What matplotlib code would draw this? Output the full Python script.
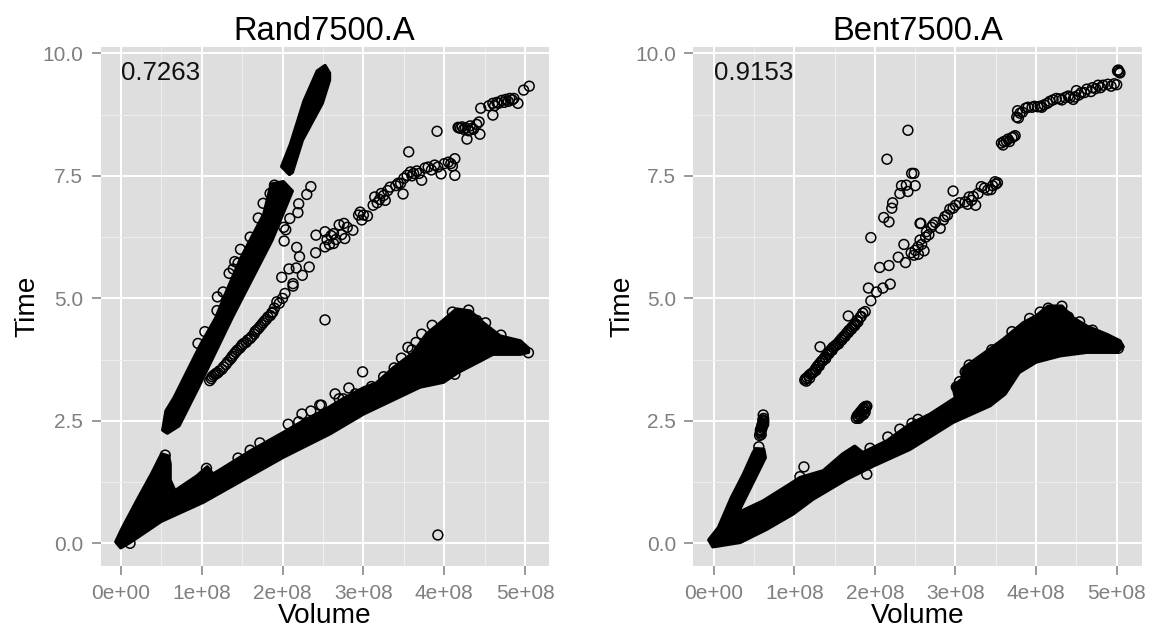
import matplotlib
matplotlib.use("Agg")
import matplotlib.pyplot as plt

# all x values in units of 1e8
tick_x = [0, 1, 2, 3, 4, 5]
tick_x_labels = ["0e+00", "1e+08", "2e+08", "3e+08", "4e+08", "5e+08"]
tick_y = [0, 2.5, 5, 7.5, 10]
tick_y_labels = ["0.0", "2.5", "5.0", "7.5", "10.0"]
minor_x = [0.5, 1.5, 2.5, 3.5, 4.5]
minor_y = [1.25, 3.75, 6.25, 8.75]

# Outlines of the fully overplotted (solid black) masses
rand_main = [(-0.06,0.03),(0,-0.09),(0.115,0.02),(0.5,0.45),(1.02,0.84),(2.01,1.76),(2.59,2.24),(3.0,2.64),(3.70,3.19),(3.99,3.29),
             (4.17,3.49),(4.44,3.72),(4.60,3.86),(4.94,3.86),(5.04,3.9),(5.04,3.98),(4.94,4.13),(4.69,4.23),(4.48,4.50),(4.32,4.74),
             (4.15,4.78),(3.98,4.54),(3.78,4.27),(3.61,3.88),(3.37,3.58),(3.16,3.27),(3.0,3.17),(2.75,2.95),(2.52,2.72),(2.26,2.50),(2.0,2.25),
             (1.6,1.88),(1.27,1.54),(1.14,1.41),(1.07,1.56),(0.94,1.37),(0.67,1.07),(0.61,1.29),(0.61,1.62),(0.59,1.78),(0.51,1.82),(0.48,1.74),
             (0.38,1.41),(0.22,0.93),(0.02,0.31)]
rand_steep = [(0.576,2.25),(0.72,2.40),(0.97,3.22),(1.38,4.62),(1.87,6.19),(2.12,7.19),(2.01,7.38),(1.86,7.33),(1.77,6.72),
              (1.485,5.82),(1.275,5.01),(1.176,4.60),(0.99,4.06),(0.826,3.52),(0.66,2.97),(0.56,2.70),(0.52,2.31)]
rand_top = [(2.085,7.53),(1.99,7.69),(2.10,8.15),(2.267,9.03),(2.43,9.64),(2.525,9.75),(2.58,9.6),(2.58,9.45),(2.49,8.98),(2.245,8.23),(2.12,7.57)]

bent_main = [(-0.06,0.07),(-0.01,-0.07),(0.33,0.02),(0.66,0.29),(0.985,0.60),(1.23,0.90),(1.65,1.31),(1.98,1.58),(2.435,1.92),(2.97,2.47),
             (3.43,2.81),(3.615,3.05),(3.79,3.49),(4.0,3.70),(4.3,3.83),(4.63,3.90),(5.0,3.90),(5.08,4.01),(5.04,4.13),(4.88,4.26),
             (4.63,4.43),(4.46,4.60),(4.32,4.84),(4.15,4.84),(4.0,4.64),(3.84,4.50),(3.59,4.16),(3.34,3.86),(3.1,3.58),(3.08,3.35),
             (2.97,3.2),(3.0,2.97),(2.68,2.63),(2.435,2.43),(2.15,2.09),(1.85,1.85),(1.75,1.98),(1.6,1.82),(1.36,1.48),(1.07,1.34),
             (0.95,1.21),(0.61,0.86),(0.3,0.62),(0.64,1.75),(0.62,1.92),(0.52,1.93),(0.49,1.85),(0.37,1.41),(0.22,0.93),(0.06,0.32)]

# Individually readable circles
rand_x = [1.10,1.13,1.17,1.20,1.25,1.30,1.35,1.38,1.42,1.47,1.50,1.55,1.60,1.65,1.68,1.72,1.76,1.80,1.85,1.866,1.93,2.03,2.13,1.99,2.08,2.17,2.245,2.33,2.21,2.175,2.41,2.414,2.525,2.525,2.13,
          2.02,2.09,2.19,2.2,2.3,2.35,2.015,2.04,
          1.195,1.265,1.19,1.34,1.41,1.48,1.6,1.7,1.76,1.846,1.9,1.39,1.45,1.04,0.955,
          2.63,2.63,2.76,2.77,2.87,2.96,2.98,3.12,3.14,3.22,3.27,3.33,3.43,3.49,3.54,3.62,3.72,3.76,3.88,3.96,4.05,4.13,4.13,3.56,3.91,
          4.17,4.2,4.24,4.28,4.34,4.3,4.43,4.44,4.45,4.6,4.6,4.55,4.65,4.71,4.76,4.81,4.86,4.91,4.98,5.05,
          2.525,3.92,2.99,2.82,2.65,2.48,3.55,3.72,3.47,4.3,4.51,5.04,4.13,3.38,2.46,2.24,2.07,1.72,1.6,1.45,1.06,0.115,0.55]
rand_y = [3.32,3.40,3.45,3.48,3.55,3.65,3.75,3.82,3.90,3.98,4.05,4.10,4.18,4.27,4.35,4.42,4.50,4.57,4.65,4.70,4.93,5.10,5.25,5.43,5.60,5.62,5.47,5.64,5.85,6.04,5.93,6.29,6.36,6.05,5.30,
          6.17,6.63,6.75,6.93,7.12,7.28,6.45,6.40,
          5.03,5.13,4.75,5.51,5.75,6.00,6.25,6.64,6.94,7.14,7.31,5.60,5.72,4.32,4.08,
          6.12,6.32,6.53,6.22,6.39,6.76,6.60,6.90,7.07,7.14,7.00,7.27,7.35,7.13,7.51,7.55,7.41,7.66,7.72,7.54,7.78,7.85,7.51,7.99,8.41,
          8.49,8.47,8.45,8.25,8.47,8.42,8.60,8.35,8.88,8.74,8.98,8.93,9.0,9.04,9.06,9.08,9.08,8.98,9.25,9.33,
          4.56,0.17,3.50,3.17,3.05,2.82,4.00,4.27,3.78,4.76,4.50,3.89,3.45,3.58,2.82,2.64,2.43,2.05,1.90,1.74,1.53,0.0,1.80]

bent_x = [2.41,2.15,2.456,2.485,2.5,2.33,2.39,2.31,2.41,2.22,2.21,2.11,2.175,1.95,2.56,2.36,2.29,2.38,2.175,2.06,2.485,2.535,2.19,2.1,2.02,1.92,1.95,1.88,1.67,1.82,
          1.32,1.13,1.16,1.2,1.24,1.28,1.32,1.36,1.4,1.44,1.48,1.52,1.56,1.6,1.64,1.68,1.72,1.76,1.78,1.85,
          1.14,1.18,1.22,1.26,1.3,1.34,1.38,1.42,1.46,1.5,1.54,1.58,1.62,1.66,1.7,1.74,
          0.57,0.58,0.59,0.6,0.6,0.61,0.62,0.62,0.615,0.58,0.6,0.62,
          1.77,1.79,1.81,1.83,1.85,1.87,1.89,1.9,1.78,1.8,1.82,1.84,1.86,1.88,
          1.12,1.07,0.56,1.9,1.94,2.16,2.31,2.46,2.535,
          2.61,2.57,2.56,2.64,2.72,2.81,2.87,2.97,2.97,3.12,3.17,3.25,3.28,3.32,3.4,3.49,3.5,
          3.57,3.6,3.65,3.7,3.74,3.76,3.77,3.87,3.95,4.02,4.07,4.14,4.21,4.29,4.36,4.42,4.48,4.5,4.56,4.63,4.7,4.77,4.83,4.89,5.0,5.03,5.02,5.04,5.01,
          3.17,3.92,4.15,4.32,4.54,5.02,3.01]
bent_y = [8.43,7.84,7.55,7.55,7.30,7.30,7.31,7.14,7.18,6.95,6.84,6.65,6.56,6.24,6.53,6.10,5.84,5.73,5.67,5.63,5.88,6.05,5.29,5.21,5.13,5.21,4.95,4.73,4.64,4.62,
          4.01,3.33,3.38,3.45,3.50,3.60,3.68,3.75,3.85,3.92,4.00,4.05,4.12,4.20,4.27,4.35,4.42,4.48,4.55,4.70,
          3.36,3.42,3.47,3.55,3.64,3.72,3.80,3.88,3.96,4.02,4.08,4.16,4.23,4.31,4.38,4.45,
          2.20,2.25,2.30,2.35,2.40,2.45,2.50,2.55,2.62,2.28,2.38,2.48,
          2.55,2.58,2.62,2.66,2.70,2.73,2.77,2.80,2.60,2.64,2.68,2.72,2.76,2.79,
          1.56,1.36,1.97,1.41,1.94,2.17,2.33,2.45,2.53,
          5.97,6.53,6.19,6.36,6.50,6.43,6.67,6.84,7.19,6.97,7.07,6.90,7.14,7.28,7.21,7.38,7.33,
          8.17,8.2,8.25,8.28,8.32,8.70,8.83,8.88,8.9,8.91,8.90,8.98,9.05,9.07,9.10,9.1,9.11,9.24,9.2,9.27,9.3,9.35,9.35,9.37,9.36,9.62,9.66,9.6,9.64,
          3.64,4.59,4.80,4.84,4.52,3.98,3.19]

# Denser parts of the chains and the edge circles of the black masses
rand_extra_x = [1.12,1.15,1.18,1.22,1.27,1.32,1.37,1.40,1.44,1.49,1.52,1.57,1.62,1.66,1.70,1.74,1.78,1.82,1.88,1.90,1.96,2.0,
                2.55,2.58,2.6,2.66,2.7,2.73,2.8,2.94,3.0,3.05,3.17,3.2,3.25,3.3,3.4,3.46,3.5,3.58,3.6,3.66,3.69,3.8,3.84,3.92,4.0,4.08,4.1,
                4.18,4.22,4.26,4.32,4.36,4.4,4.62,4.67,4.74,4.79,4.84,
                2.2,2.35,2.7,2.75,2.9,3.1,3.25,3.6,3.65,3.85,4.1,4.4,4.7]
rand_extra_y = [3.36,3.43,3.47,3.52,3.6,3.7,3.79,3.86,3.94,4.02,4.08,4.15,4.22,4.32,4.38,4.46,4.54,4.62,4.72,4.8,4.9,5.0,
                6.2,6.1,6.28,6.2,6.5,6.3,6.45,6.7,6.7,6.68,6.95,7.02,7.1,7.2,7.3,7.35,7.45,7.58,7.5,7.6,7.55,7.68,7.62,7.68,7.75,7.75,7.7,
                8.48,8.5,8.48,8.52,8.45,8.55,8.93,8.98,9.0,9.02,9.05,
                2.48,2.7,2.95,2.95,3.05,3.2,3.4,3.95,4.1,4.45,4.72,4.55,4.25]
bent_extra_x = [1.15,1.19,1.23,1.27,1.31,1.35,1.39,1.43,1.47,1.51,1.55,1.59,1.63,1.67,1.71,1.75,1.79,1.83,
                2.45,2.5,2.54,2.58,2.63,2.67,2.7,2.75,2.85,2.9,2.93,3.0,3.05,3.15,3.2,3.22,3.36,3.44,3.46,3.52,
                3.59,3.63,3.67,3.72,3.78,3.8,3.83,3.9,3.98,4.05,4.1,4.17,4.25,4.32,4.4,4.46,4.53,4.6,4.68,4.74,4.8,4.93,4.97,
                0.58,0.6,0.61,0.59,0.62,1.8,1.83,1.86,1.88,3.05,3.12,3.45,3.7,4.05,4.22,4.4,4.7]
bent_extra_y = [3.31,3.37,3.48,3.53,3.62,3.72,3.77,3.87,3.94,4.03,4.07,4.15,4.22,4.3,4.37,4.44,4.52,4.63,
                5.93,5.98,5.9,6.1,6.25,6.3,6.45,6.55,6.6,6.7,6.82,6.9,6.95,6.92,7.0,7.08,7.25,7.22,7.3,7.36,
                8.13,8.21,8.2,8.3,8.68,8.78,8.8,8.9,8.92,8.92,8.95,9.02,9.08,9.05,9.13,9.06,9.15,9.2,9.22,9.28,9.3,9.33,9.38,
                2.32,2.42,2.52,2.22,2.43,2.55,2.6,2.63,2.68,3.3,3.5,3.95,4.32,4.72,4.72,4.62,4.35]

W, H = 1150, 627
plt.rcParams["font.family"] = ["Liberation Sans", "DejaVu Sans"]
fig = plt.figure(figsize=(W / 100, H / 100), dpi=100, facecolor="white")

TICK_GREY = "#7f7f7f"


def panel(left, right, xlim, title, label, value, x, y, masses, ylab_x):
    ax = fig.add_axes([left / W, 1 - 566 / H, (right - left) / W, (566 - 47) / H])
    ax.set_facecolor("#dedede")
    for s in ax.spines.values():
        s.set_visible(False)
    ax.set_xlim(*xlim)
    ax.set_ylim(-0.463, 10.13)
    ax.set_xticks(tick_x, tick_x_labels)
    ax.set_yticks(tick_y, tick_y_labels)
    ax.set_xticks(minor_x, minor=True)
    ax.set_yticks(minor_y, minor=True)
    ax.tick_params(which="major", length=6.5, width=1.1, color=TICK_GREY, labelcolor=TICK_GREY,
                   labelsize=15)
    ax.tick_params(axis="x", which="major", pad=6.5)
    ax.tick_params(axis="y", which="major", pad=6)
    ax.tick_params(which="minor", length=0)
    ax.grid(True, which="major", color="white", lw=1.4)
    ax.grid(True, which="minor", color="#eeeeee", lw=0.8)
    ax.set_axisbelow(True)
    for m in masses:
        ax.fill([p[0] for p in m], [p[1] for p in m], facecolor="black", edgecolor="black",
                lw=2.5, joinstyle="round", zorder=3)
    ax.scatter(x, y, s=50, facecolors="none", edgecolors="black", linewidths=1.1, zorder=4)
    ax.text(0, 9.6, value, fontsize=18.6, color="#111111", ha="left", va="center", zorder=5)
    ax.set_title(title, fontsize=23.6, color="black", pad=4)
    ax.set_xlabel(label[0], fontsize=20.2)
    ax.set_ylabel(label[1], fontsize=20.2)
    ax.xaxis.set_label_coords(0.5, -0.071)
    ax.yaxis.set_label_coords(ylab_x, 0.5)
    return ax


panel(100.5, 549, (-0.25, 5.294), "Rand7500.A", ("Volume", "Time"), "0.7263",
      rand_x + rand_extra_x, rand_y + rand_extra_y, [rand_main, rand_steep, rand_top], -0.135)
panel(693.3, 1141.7, (-0.2525, 5.31), "Bent7500.A", ("Volume", "Time"), "0.9153",
      bent_x + bent_extra_x, bent_y + bent_extra_y, [bent_main], -0.13)

fig.savefig("out.png", dpi=100, facecolor="white")
